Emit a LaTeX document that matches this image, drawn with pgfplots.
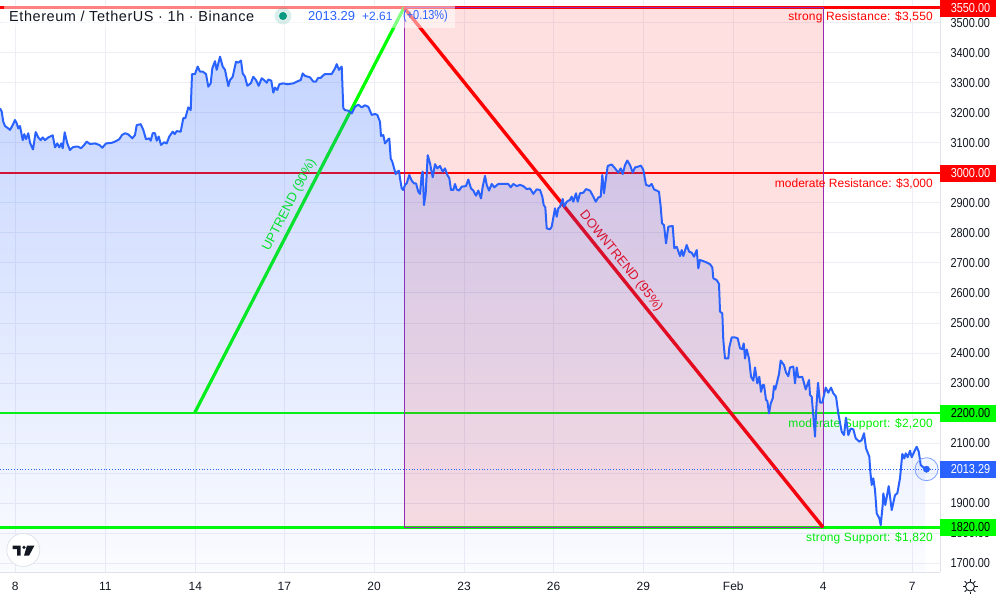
\documentclass[border=0pt]{standalone}
\usepackage{pgfplots}
\pgfplotsset{compat=1.18}
\usepackage{pgfplotstable}
\usepackage{fontspec}
\setmainfont{Liberation Sans}
\newfontfamily\narrow[FakeStretch=0.84]{Liberation Sans}
\newfontfamily\spaced[LetterSpace=3.9]{Liberation Sans}
\newfontfamily\spacedb[LetterSpace=1.5]{Liberation Sans}
\usetikzlibrary{fadings}
\definecolor{tvblue}{HTML}{2962FF}
\definecolor{tvgrid}{HTML}{EDEFF5}
\definecolor{tvline}{HTML}{E0E3EB}
\definecolor{tvtext}{HTML}{131722}
\definecolor{tvpurple}{HTML}{9C27B0}
\definecolor{tvgreen}{HTML}{00FF00}
\definecolor{tvlabgreen}{HTML}{00F000}
\definecolor{tvdot}{HTML}{089981}
\tikzfading[name=areafade, top color=transparent!73, bottom color=transparent!98]
\pgfplotstableread{
x y
0 3215
1.7 3204
3.3 3170
5 3156
8.3 3148
10 3143
12.7 3159
15 3176
16.7 3165
18.3 3148
20 3156
22.7 3109
24.3 3129
26 3112
28.3 3132
30 3100
33 3078
35.7 3136
38.3 3118
40.7 3109
42.7 3118
45 3109
48.3 3118
52.7 3125
55 3085
57.3 3098
59.3 3085
61.3 3098
62.7 3082
64.7 3135
67.3 3098
70 3076
72.7 3085
75.3 3087
78.3 3087
81 3082
84 3092
86.7 3104
90 3096
95 3098
99.3 3093
102.3 3084
106 3098
111.7 3100
115 3104
119.3 3112
122 3126
125 3132
128.3 3128
132.3 3115
135 3126
136.7 3159
140.7 3162
143.3 3143
146 3112
149.3 3115
150.7 3107
152.7 3132
155 3132
156.7 3107
158.7 3121
161 3093
164.3 3102
166.7 3098
169.3 3121
172.7 3137
174.7 3129
176.7 3139
180.7 3137
183.3 3182
185.3 3182
188.3 3218
190.7 3209
192 3329
195 3329
197.7 3354
200 3337
202.7 3337
206 3329
208.3 3287
210.7 3298
212.3 3348
215 3372
216.7 3343
220 3387
222.7 3354
225 3343
228.3 3289
230 3309
232.7 3320
236 3370
238.3 3367
241 3374
242.7 3331
245 3320
247.3 3290
250.7 3298
253.3 3320
256 3309
258.7 3290
261.7 3315
264 3309
266.7 3300
268.3 3311
271.3 3307
273.3 3267
275 3284
277.3 3276
279.3 3295
283.3 3298
287.3 3295
293.3 3298
298.3 3306
300.7 3309
302.7 3331
305 3323
310 3318
313.3 3304
316 3304
318 3316
320.7 3316
322.7 3323
325 3329
331.7 3329
335 3348
336.7 3362
339 3343
341.7 3354
343.3 3215
345 3209
348.3 3207
351.7 3198
355 3220
358.3 3227
361.7 3218
365 3225
368.3 3220
371.7 3193
375 3196
377.3 3193
380 3170
381 3123
383.3 3126
385 3098
388.3 3112
389.3 3114
390.7 3048
392.3 3037
395.7 2996
397.3 3004
399 3007
400 2982
401.7 2948
403.3 2943
405 2960
406.7 2965
409.3 2993
411.7 2974
414 2965
416 2965
418.3 2937
420 2930
421.7 2993
422.7 3004
424 2893
425.7 2932
427.7 3059
430 3032
432.7 2985
435 3029
437.3 3015
440 3023
442.7 3004
445 3015
447.3 2993
449.3 2982
451 2943
453.3 2943
455 2963
456.7 2945
459 2941
461.7 2954
466 2956
468.3 2978
471 2948
473.3 2941
476 2924
478.3 2941
481 2915
482.7 2954
485 2990
486.7 2960
489 2941
491.7 2963
494.3 2952
498.3 2963
503.3 2963
508.3 2963
510.7 2952
513.3 2963
516.7 2956
520 2960
523.3 2956
526.7 2946
530 2948
533.3 2930
536.7 2945
540 2943
542.3 2921
543.7 2893
545.3 2885
546.7 2815
550 2812
551.7 2821
555 2882
556.7 2854
558.3 2882
560 2887
562.7 2913
564 2887
566.7 2904
570 2910
571.7 2921
573.3 2904
576 2932
577.7 2904
580 2932
583.3 2934
586 2946
590 2941
593.3 2921
595.7 2904
598.3 2918
600.7 2921
602.3 2993
604 2932
605.7 2976
607.7 3023
611.7 3028
615 3015
618.3 3001
620.7 3015
622.7 2996
625 3026
627.3 3041
630 3026
632.7 3001
635 3018
638.3 3021
641 3024
643.3 3010
646 2960
649.3 2956
651.7 2963
654 2945
656.7 2941
659 2937
660.7 2887
662 2832
664 2826
666 2765
668.3 2821
672.7 2823
674.3 2749
676.7 2754
680 2723
681.7 2743
683.3 2723
686.7 2760
689 2738
691.7 2734
694 2721
696.7 2743
698.3 2682
700 2710
705 2704
710 2696
712.3 2685
713.3 2649
716.7 2643
719 2630
720 2538
722.3 2532
723.3 2443
725 2382
728.3 2382
729.3 2419
731.7 2452
735 2452
737.7 2449
740 2416
742.3 2413
743.7 2432
745 2382
746.7 2412
749 2382
751 2321
753.3 2308
755 2352
757.3 2299
759.3 2321
761 2271
762.7 2294
764 2294
766 2244
767.3 2241
769 2199
770.7 2232
772.7 2249
774 2290
775.3 2279
779 2330
780.7 2375
784 2360
786 2335
788.3 2323
790 2352
793.3 2355
795 2299
796.7 2352
798.3 2319
802.3 2321
805.7 2279
809 2310
810 2260
811.7 2255
815 2122
816 2199
818 2301
820 2235
822.3 2235
825.7 2285
828.3 2268
831 2285
833.3 2266
836 2255
838.3 2199
841.7 2138
844 2127
846 2185
848.3 2127
850.7 2149
853.3 2146
855.7 2116
859.3 2105
861.7 2110
864 2133
866 2083
869.3 2055
870.3 2005
871.7 1961
873.3 1983
875 1944
876.7 1866
879.3 1850
880.7 1827
882.7 1894
883.3 1933
885.3 1894
888.7 1957
891.7 1877
895 1927
897.3 1933
900 1983
902.3 2064
904.3 2049
905.7 2066
907.7 2053
910 2075
911.7 2053
914.3 2072
916.7 2088
918.7 2072
920.7 2027
925 2015
926.5 2013.29
}\pricedata
\begin{document}
\begin{tikzpicture}
\path[use as bounding box] (0pt,0pt) rectangle (1000pt,600pt);
\begin{axis}[
  at={(0pt,28pt)}, anchor=south west,
  width=940pt, height=572pt, scale only axis,
  xmin=0, xmax=940, ymin=1671, ymax=3575.6,
  clip mode=individual,
  axis x line*=bottom, axis y line*=right,
  axis line style={draw=tvline, line width=1pt},
  major tick length=0pt,
  grid=major, grid style={draw=tvgrid, line width=1pt},
  xtick={15.3,105.3,195.3,284.3,374,464,553.5,643.3,733.3,823.3,912.3},
  xticklabels={8,11,14,17,20,23,26,29,Feb,4,7},
  ytick={1700,1800,...,3500},
  yticklabels={1700.00,1800.00,1900.00,{},2100.00,{},2300.00,2400.00,2500.00,2600.00,2700.00,2800.00,2900.00,{},3100.00,3200.00,3300.00,3400.00,3500.00},
  ticklabel style={font=\narrow\fontsize{13}{13}\selectfont, text=tvtext},
  xticklabel style={font=\fontsize{12}{12}\selectfont, yshift=-6.5pt},
  yticklabel style={xshift=7pt},
]
% levels
\addplot[red, line width=3pt, forget plot] coordinates {(0,3550) (940,3550)};
\addplot[red, line width=2pt, forget plot] coordinates {(0,3000) (940,3000)};
\addplot[green, line width=2pt, forget plot] coordinates {(0,2200) (940,2200)};
\addplot[green, line width=3pt, forget plot] coordinates {(0,1820) (940,1820)};
% downtrend zone
\addplot[draw=tvpurple, line width=1pt, fill=red, fill opacity=0.12, forget plot] coordinates {(404,3550) (823,3550) (823,1820) (404,1820)} -- cycle;
% trend lines
\addplot[tvgreen, line width=3.2pt, forget plot] coordinates {(194.5,2200) (404,3550)};
\addplot[red, line width=3.4pt, forget plot] coordinates {(404,3550) (823,1820)};
% texts
\node[text=tvgreen, rotate=62.6, font=\fontsize{13}{13}\selectfont] at (axis cs:289.5,2893) {UPTREND (90\%)};
\node[text=red, rotate=-51.1, font=\fontsize{13}{13}\selectfont] at (axis cs:621,2706) {DOWNTREND (95\%)};
\node[text=red, anchor=east, inner sep=0pt, font=\spacedb\fontsize{12}{12}\selectfont] at (axis cs:933,3517) {strong Resistance: \$3,550};
\node[text=red, anchor=east, inner sep=0pt, font=\fontsize{12}{12}\selectfont] at (axis cs:933,2963) {moderate Resistance: \$3,000};
\node[text=tvlabgreen, anchor=east, inner sep=0pt, font=\spacedb\fontsize{12}{12}\selectfont] at (axis cs:933,2164) {moderate Support: \$2,200};
\node[text=tvlabgreen, anchor=east, inner sep=0pt, font=\spacedb\fontsize{12}{12}\selectfont] at (axis cs:933,1784) {strong Support: \$1,820};
% area under the price
\addplot[draw=none, fill=tvblue, path fading=areafade, forget plot] table[x=x,y=y] {\pricedata} -- (axis cs:926.5,1671) -- (axis cs:0,1671) -- cycle;
% last-price line
\addplot[tvblue, line width=0.8pt, dotted, forget plot] coordinates {(0,2013.29) (940,2013.29)};
% price
\addplot[tvblue, line width=2pt, line join=round] table[x=x,y=y] {\pricedata};
% last point
\addplot[only marks, mark=*, mark size=11.5pt, mark options={draw=tvblue!60, fill=tvblue, fill opacity=0.06, line width=0.8pt}, forget plot] coordinates {(926.5,2013.29)};
\addplot[only marks, mark=*, mark size=3.2pt, mark options={draw=tvblue, fill=tvblue}, forget plot] coordinates {(926.5,2013.29)};
\end{axis}
% px helper: x=px, y=600-py
% legend backdrop
\fill[white, opacity=0.5] (4pt,572pt) rectangle (455pt,594pt);
\node[anchor=west, inner sep=0pt, text=tvtext, font=\spaced\fontsize{14.5}{15}\selectfont] at (9pt,584pt) {Ethereum / TetherUS · 1h · Binance};
\fill[tvdot, opacity=0.15] (283pt,584pt) circle (8.5pt);
\fill[tvdot] (283pt,584pt) circle (4pt);
\node[anchor=west, inner sep=0pt, text=tvblue, font=\fontsize{13}{13}\selectfont] at (308pt,584pt) {2013.29};
\node[anchor=west, inner sep=0pt, text=tvblue, font=\fontsize{12}{12}\selectfont] at (362pt,584pt) {+2.61};
\node[anchor=west, inner sep=0pt, text=tvblue, font=\narrow\fontsize{13}{13}\selectfont] at (403pt,584pt) {(+0.13\%)};
% price boxes
\foreach \yc/\col/\tc/\lab in {591.6/red/white/3550.00, 426.7/red/white/3000.00, 186.7/green/black/2200.00, 72.7/green/black/1820.00, 130.7/tvblue/white/2013.29}{
  \fill[\col] (940pt,\yc pt-8.4pt) rectangle (996pt,\yc pt+8.4pt);
  \node[anchor=center, inner sep=0pt, text=\tc, font=\narrow\fontsize{13}{13}\selectfont] at (970.5pt,\yc pt) {\lab};
}
% logo
\draw[fill=white, draw=tvline, line width=0.8pt] (23.3pt,50pt) circle (16.5pt);
\fill[tvtext] (12.7pt,54.5pt) -- (20.5pt,54.5pt) -- (20.5pt,44.3pt) -- (17pt,44.3pt) -- (17pt,51pt) -- (12.7pt,51pt) -- cycle;
\fill[tvtext] (24pt,52.7pt) circle (1.8pt);
\fill[tvtext] (27pt,54.5pt) -- (34.5pt,54.5pt) -- (29pt,44.3pt) -- (24pt,44.3pt) -- cycle;
% settings icon
\draw[tvtext, line width=0.9pt] (970pt,13.5pt) circle (4.5pt);
\foreach \a in {0,45,...,315}{ \draw[tvtext, line width=0.9pt] (970pt,13.5pt)++(\a:5pt) -- ++(\a:2.5pt); }
\end{tikzpicture}
\end{document}
